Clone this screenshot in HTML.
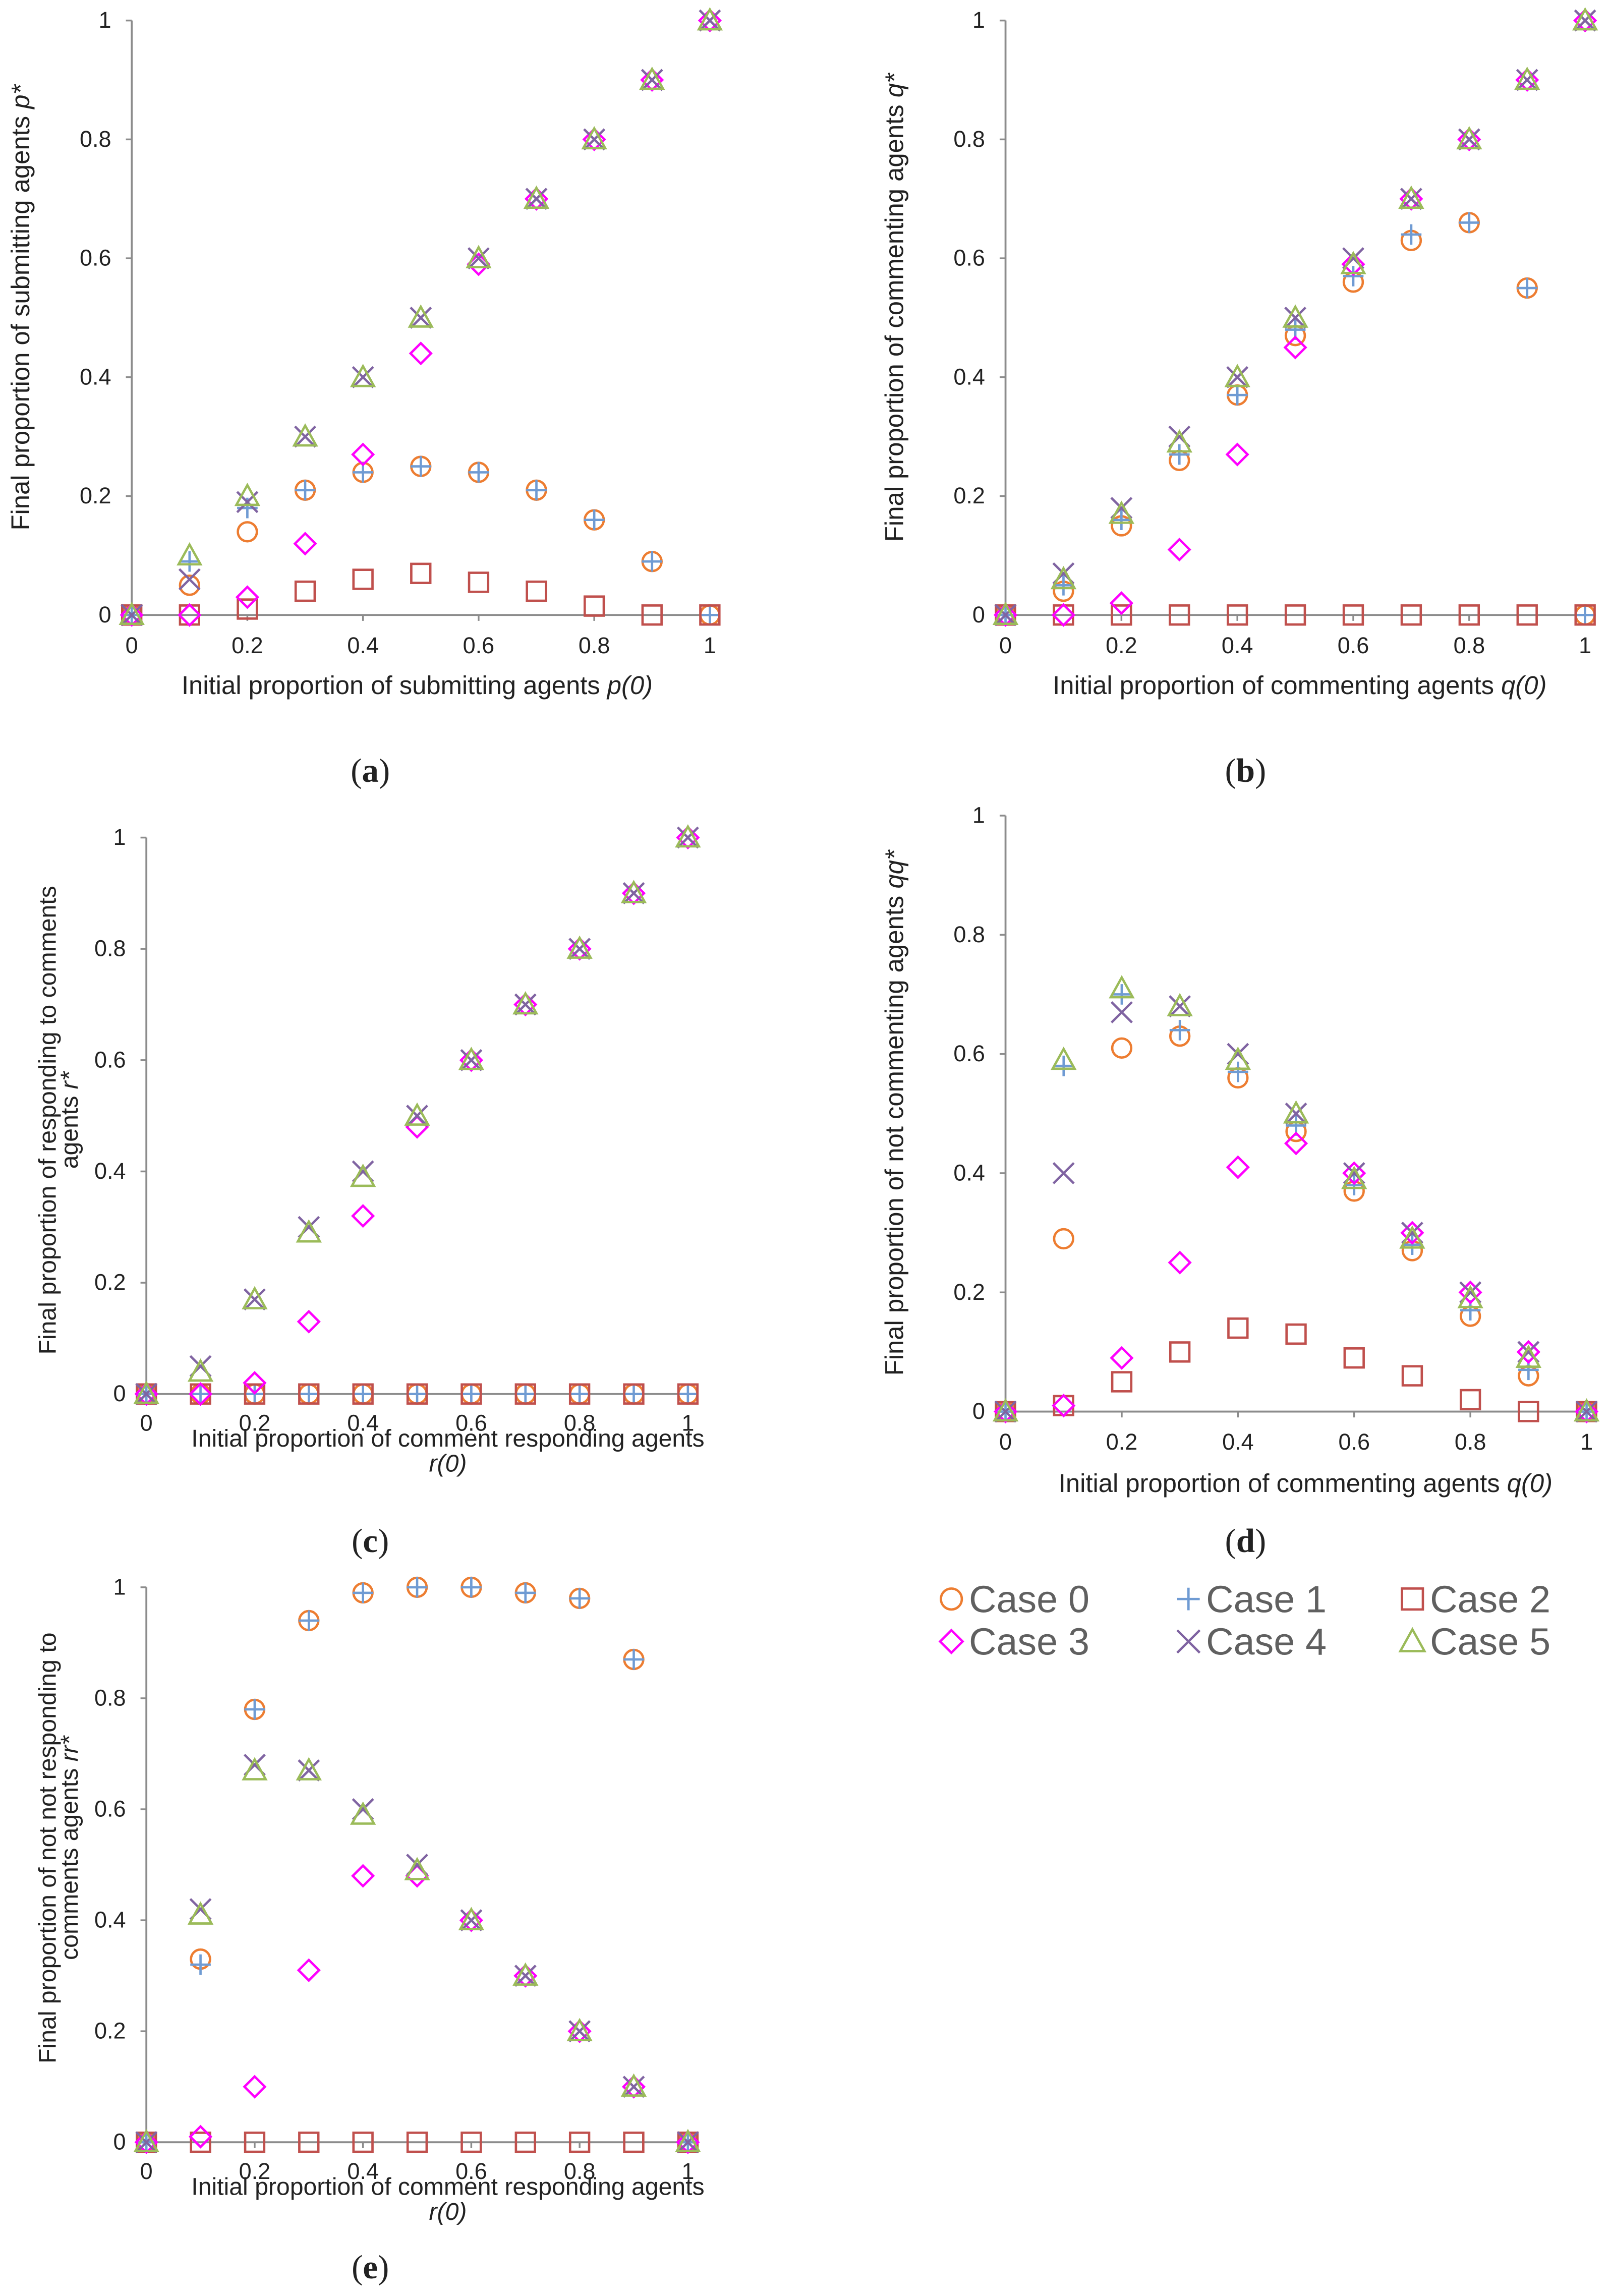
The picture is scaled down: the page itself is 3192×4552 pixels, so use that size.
<!DOCTYPE html>
<html><head><meta charset="utf-8">
<style>
html,body{margin:0;padding:0;background:#fff;}
svg{display:block;}
text{font-family:"Liberation Sans",Arial,sans-serif;fill:#222;}
</style></head>
<body>
<svg id="chart" width="3192" height="4552" viewBox="0 0 1100 1568" preserveAspectRatio="none" xmlns="http://www.w3.org/2000/svg">
<g id="panels"></g>
<g id="legend"></g>
</svg>
<script>
const xVals=[0,0.1,0.2,0.3,0.4,0.5,0.6,0.7,0.8,0.9,1];
const xTickLabels=["0","0.2","0.4","0.6","0.8","1"];
const yTickLabels=["0","0.2","0.4","0.6","0.8","1"];
const caseNames=["Case 0","Case 1","Case 2","Case 3","Case 4","Case 5"];

const aCase0=[0,0.05,0.14,0.21,0.24,0.25,0.24,0.21,0.16,0.09,0];
const aCase1=[0,0.09,0.18,0.21,0.24,0.25,0.24,0.21,0.16,0.09,0];
const aCase2=[0,0,0.01,0.04,0.06,0.07,0.055,0.04,0.015,0,0];
const aCase3=[0,0,0.03,0.12,0.27,0.44,0.59,0.7,0.8,0.9,1];
const aCase4=[0,0.06,0.19,0.3,0.4,0.5,0.6,0.7,0.8,0.9,1];
const aCase5=[0,0.1,0.2,0.3,0.4,0.5,0.6,0.7,0.8,0.9,1];

const bCase0=[0,0.04,0.15,0.26,0.37,0.47,0.56,0.63,0.66,0.55,0];
const bCase1=[0,0.05,0.16,0.27,0.37,0.48,0.57,0.64,0.66,0.55,0];
const bCase2=[0,0,0,0,0,0,0,0,0,0,0];
const bCase3=[0,0,0.02,0.11,0.27,0.45,0.59,0.7,0.8,0.9,1];
const bCase4=[0,0.07,0.18,0.3,0.4,0.5,0.6,0.7,0.8,0.9,1];
const bCase5=[0,0.06,0.17,0.29,0.4,0.5,0.59,0.7,0.8,0.9,1];

const cCase0=[0,0,0,0,0,0,0,0,0,0,0];
const cCase1=[0,0,0,0,0,0,0,0,0,0,0];
const cCase2=[0,0,0,0,0,0,0,0,0,0,0];
const cCase3=[0,0,0.02,0.13,0.32,0.48,0.6,0.7,0.8,0.9,1];
const cCase4=[0,0.05,0.17,0.3,0.4,0.5,0.6,0.7,0.8,0.9,1];
const cCase5=[0,0.04,0.17,0.29,0.39,0.5,0.6,0.7,0.8,0.9,1];

const dCase0=[0,0.29,0.61,0.63,0.56,0.47,0.37,0.27,0.16,0.06,0];
const dCase1=[0,0.58,0.7,0.64,0.57,0.48,0.38,0.28,0.17,0.07,0];
const dCase2=[0,0.01,0.05,0.1,0.14,0.13,0.09,0.06,0.02,0,0];
const dCase3=[0,0.01,0.09,0.25,0.41,0.45,0.4,0.3,0.2,0.1,0];
const dCase4=[0,0.4,0.67,0.68,0.6,0.5,0.4,0.3,0.2,0.1,0];
const dCase5=[0,0.59,0.71,0.68,0.59,0.5,0.39,0.29,0.19,0.09,0];

const eCase0=[0,0.33,0.78,0.94,0.99,1,1,0.99,0.98,0.87,0];
const eCase1=[0,0.32,0.78,0.94,0.99,1,1,0.99,0.98,0.87,0];
const eCase2=[0,0,0,0,0,0,0,0,0,0,0];
const eCase3=[0,0.01,0.1,0.31,0.48,0.48,0.4,0.3,0.2,0.1,0];
const eCase4=[0,0.42,0.68,0.67,0.6,0.5,0.4,0.3,0.2,0.1,0];
const eCase5=[0,0.41,0.67,0.67,0.59,0.49,0.4,0.3,0.2,0.1,0];

const NS="http://www.w3.org/2000/svg";
const colors=["#ED7D31","#6F9BD3","#C0504D","#FF00FF","#8064A2","#9BBB59"];
function mk(tag,attrs,parent){const e=document.createElementNS(NS,tag);for(const k in attrs)e.setAttribute(k,attrs[k]);if(parent)parent.appendChild(e);return e;}
function marker(parent,type,cx,cy,sc){
  sc=sc||1;
  const c=colors[type];const s=7*sc;let e;
  const st={fill:"none",stroke:c,"stroke-width":1.6};
  if(type===0){e=mk("circle",Object.assign({cx:cx,cy:cy,r:6.5*sc},st),parent);}
  else if(type===1){e=mk("path",Object.assign({d:`M${cx-s} ${cy}H${cx+s}M${cx} ${cy-s}V${cy+s}`},st),parent);}
  else if(type===2){e=mk("rect",Object.assign({x:cx-6.5*sc,y:cy-6.5*sc,width:13*sc,height:13*sc},st),parent);}
  else if(type===3){e=mk("path",Object.assign({d:`M${cx} ${cy-s}L${cx+s} ${cy}L${cx} ${cy+s}L${cx-s} ${cy}Z`},st),parent);}
  else if(type===4){e=mk("path",Object.assign({d:`M${cx-s} ${cy-s}L${cx+s} ${cy+s}M${cx+s} ${cy-s}L${cx-s} ${cy+s}`},st),parent);}
  else {e=mk("path",Object.assign({d:`M${cx} ${cy-7.5*sc}L${cx+7.5*sc} ${cy+6*sc}L${cx-7.5*sc} ${cy+6*sc}Z`},st),parent);}
  return e;
}
const panels=[
 {id:"a",x0:90,x1:485,y0:420,y1:14,series:[aCase0,aCase1,aCase2,aCase3,aCase4,aCase5],fs:17.5,
  xt:[{t:"Initial proportion of submitting agents ",i:"p(0)",x:285,y:474}],
  yt:[{t:"Final proportion of submitting agents ",i:"p*",x:20,y:210}],lab:{x:253,y:534,t:"a"},xtickY:446},
 {id:"b",x0:687,x1:1083,y0:420,y1:14,series:[bCase0,bCase1,bCase2,bCase3,bCase4,bCase5],fs:17.5,
  xt:[{t:"Initial proportion of commenting agents ",i:"q(0)",x:888,y:474}],
  yt:[{t:"Final proportion of commenting agents ",i:"q*",x:617,y:210}],lab:{x:851,y:534,t:"b"},xtickY:446},
 {id:"c",x0:100,x1:470,y0:952,y1:572,series:[cCase0,cCase1,cCase2,cCase3,cCase4,cCase5],fs:16.6,
  xt:[{t:"Initial proportion of comment responding agents",i:"",x:306,y:988},{t:"",i:"r(0)",x:306,y:1005}],
  yt:[{t:"Final proportion of responding to comments",i:"",x:38,y:765},{t:"agents ",i:"r*",x:53,y:765}],lab:{x:253,y:1060,t:"c"},xtickY:977},
 {id:"d",x0:687,x1:1084,y0:964,y1:557,series:[dCase0,dCase1,dCase2,dCase3,dCase4,dCase5],fs:17.5,
  xt:[{t:"Initial proportion of commenting agents ",i:"q(0)",x:892,y:1019}],
  yt:[{t:"Final proportion of not commenting agents ",i:"qq*",x:617,y:760}],lab:{x:851,y:1060,t:"d"},xtickY:990},
 {id:"e",x0:100,x1:470,y0:1463,y1:1084,series:[eCase0,eCase1,eCase2,eCase3,eCase4,eCase5],fs:16.6,
  xt:[{t:"Initial proportion of comment responding agents",i:"",x:306,y:1499},{t:"",i:"r(0)",x:306,y:1516}],
  yt:[{t:"Final proportion of not not responding to",i:"",x:38,y:1262},{t:"comments agents ",i:"rr*",x:53,y:1262}],lab:{x:253,y:1556,t:"e"},xtickY:1488}
];
const root=document.getElementById("panels");
panels.forEach(p=>{
  const g=mk("g",{},root);
  
  
  const sx=v=>p.x0+(p.x1-p.x0)*v, sy=v=>p.y0+(p.y1-p.y0)*v;
  const ax=mk("path",{d:`M${p.x0} ${sy(1)}V${p.y0}M${p.x0} ${p.y0}H${sx(1)+4}`,stroke:"#8c8c8c","stroke-width":1.3,fill:"none"},g);
  
  
  yTickLabels.forEach((l,i)=>{
    const v=i*0.2;
    mk("line",{x1:p.x0-4,x2:p.x0,y1:sy(v),y2:sy(v),stroke:"#8c8c8c","stroke-width":1.2},g);
    const t=mk("text",{x:p.x0-14,y:sy(v)+5,"text-anchor":"end","font-size":15.5},g);t.textContent=l;
    
    
  });
  xTickLabels.forEach((l,i)=>{
    const v=i*0.2;
    mk("line",{x1:sx(v),x2:sx(v),y1:p.y0,y2:p.y0+4,stroke:"#8c8c8c","stroke-width":1.2},g);
    const t=mk("text",{x:sx(v),y:p.xtickY,"text-anchor":"middle","font-size":15.5},g);t.textContent=l;
    
    
  });
  p.xt.forEach(o=>{
    const t=mk("text",{x:o.x,y:o.y,"text-anchor":"middle","font-size":p.fs},g);
    
    
    if(o.t){const s=mk("tspan",{},t);s.textContent=o.t;}
    if(o.i){const s=mk("tspan",{"font-style":"italic"},t);s.textContent=o.i;}
  });
  p.yt.forEach(o=>{
    const t=mk("text",{x:o.x,y:o.y,"text-anchor":"middle","font-size":p.fs,transform:`rotate(-90 ${o.x} ${o.y})`},g);
    
    
    if(o.t){const s=mk("tspan",{},t);s.textContent=o.t;}
    if(o.i){const s=mk("tspan",{"font-style":"italic"},t);s.textContent=o.i;}
  });
  p.series.forEach((arr,k)=>{
    arr.forEach((v,i)=>{
      const m=marker(g,k,sx(xVals[i]),sy(v));
      
      
    });
  });
  const lt=mk("text",{x:p.lab.x,y:p.lab.y,"text-anchor":"middle","font-size":23},g);
  
  
  lt.style.fontFamily='"Liberation Serif",serif';
  const s1=mk("tspan",{},lt);s1.textContent="(";
  const s2=mk("tspan",{"font-weight":"bold"},lt);s2.textContent=p.lab.t;
  const s3=mk("tspan",{},lt);s3.textContent=")";
});
const lg=document.getElementById("legend");
const lpos=[[650,1092],[812,1092],[965,1092],[650,1121],[812,1121],[965,1121]];
caseNames.forEach((n,k)=>{
  const m=marker(lg,k,lpos[k][0],lpos[k][1],1.1);
  
  
  const t=mk("text",{x:lpos[k][0]+12,y:lpos[k][1]+9,"font-size":26},lg);
  t.style.fill="#606060";
  t.textContent=n;
  
  
});
</script>
</body></html>
